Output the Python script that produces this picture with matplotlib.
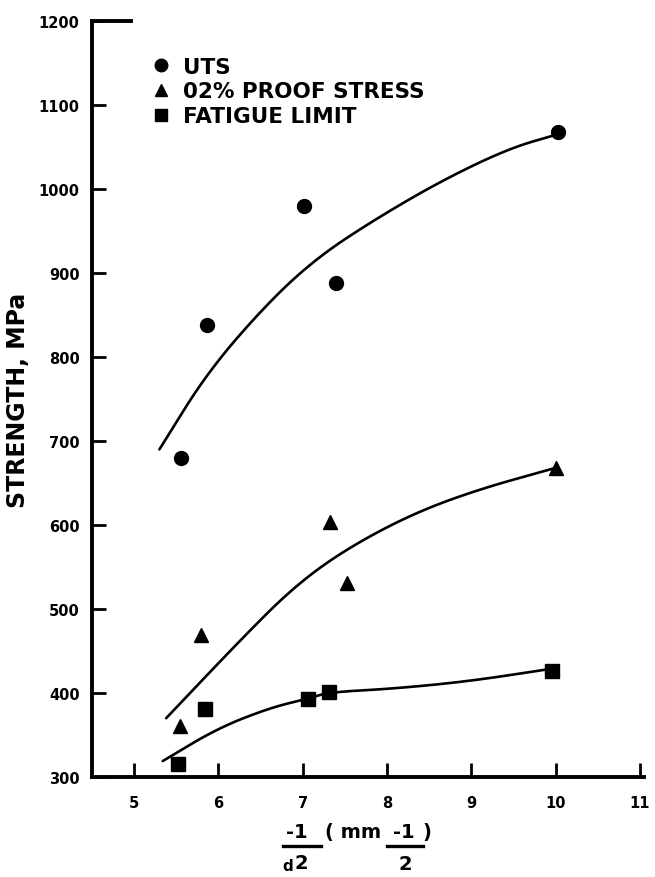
import matplotlib
matplotlib.use("Agg")
import matplotlib.pyplot as plt
from matplotlib.lines import Line2D
import numpy as np

# ---- data ----
uts_x = [5.56, 5.86, 7.01, 7.39, 10.03]
uts_y = [680, 838, 980, 888, 1068]

proof_x = [5.54, 5.79, 7.33, 7.53, 10.0]
proof_y = [361, 469, 604, 531, 668]

fat_x = [5.52, 5.84, 7.06, 7.31, 9.96]
fat_y = [315, 381, 393, 401, 426]

# hand-drawn trend curves
uts_curve_x = [5.30, 5.87, 6.59, 7.18, 7.86, 8.65, 9.44, 10.02]
uts_curve_y = [690, 782, 865, 919, 964, 1010, 1048, 1065]
proof_curve_x = [5.38, 6.27, 6.87, 7.46, 8.25, 9.04, 10.0]
proof_curve_y = [370, 464, 524, 568, 611, 641, 668]
fat_curve_x = [5.34, 5.99, 6.63, 7.06, 7.31, 8.06, 8.98, 9.96]
fat_curve_y = [319, 358, 383, 393, 401, 405, 414, 429]

x_ticks = [5, 6, 7, 8, 9, 10, 11]
y_ticks = [300, 400, 500, 600, 700, 800, 900, 1000, 1100, 1200]
legend_labels = ["UTS", "02% PROOF STRESS", "FATIGUE LIMIT"]
y_label = "STRENGTH, MPa"

W, H = 655, 878
fig = plt.figure(figsize=(W / 100, H / 100), dpi=100)
ax = fig.add_axes([92 / W, 1 - 778 / H, (644 - 92) / W, (778 - 22) / H])

FONT = "DejaVu Sans"


def chaikin(cx, cy, n=4):
    # corner-cutting smoothing of the hand-drawn trend line (endpoints kept)
    p = np.column_stack([cx, cy]).astype(float)
    for _ in range(n):
        q = 0.75 * p[:-1] + 0.25 * p[1:]
        r = 0.25 * p[:-1] + 0.75 * p[1:]
        mid = np.empty((2 * len(q), 2))
        mid[0::2] = q
        mid[1::2] = r
        p = np.vstack([p[:1], mid, p[-1:]])
    return p[:, 0], p[:, 1]


for cx, cy in [(uts_curve_x, uts_curve_y), (proof_curve_x, proof_curve_y),
               (fat_curve_x, fat_curve_y)]:
    sx, sy = chaikin(cx, cy)
    ax.plot(sx, sy, color="black", lw=1.9, solid_capstyle="round")

ax.plot(uts_x, uts_y, "o", color="black", ms=10, ls="none")
ax.plot(proof_x, proof_y, "^", color="black", ms=9.5, ls="none")
ax.plot(fat_x, fat_y, "s", color="black", ms=10, ls="none")

ax.set_xlim(4.5, 11.05)
ax.set_ylim(300, 1200)
ax.set_xticks(x_ticks)
ax.set_yticks(y_ticks)
ax.set_xticklabels([str(v) for v in x_ticks], fontfamily=FONT, fontweight="bold", fontsize=10.5)
ax.set_yticklabels([str(v) for v in y_ticks], fontfamily=FONT, fontweight="bold", fontsize=10.5)
ax.tick_params(axis="both", direction="in", length=10, width=2, color="black")
ax.tick_params(axis="x", pad=13)
ax.tick_params(axis="y", pad=9)

for s in ["left", "bottom"]:
    ax.spines[s].set_linewidth(2.8)
ax.spines["right"].set_visible(False)
ax.spines["top"].set_visible(False)
# short top corner line
ax.plot([0, 0.07], [1, 1], transform=ax.transAxes, color="black", lw=2.8,
        clip_on=False, solid_capstyle="projecting")

ax.set_ylabel(y_label, fontfamily=FONT, fontweight="bold", fontsize=17, labelpad=6)

handles = [
    Line2D([], [], marker="o", color="black", ls="none", ms=9),
    Line2D([], [], marker="^", color="black", ls="none", ms=9),
    Line2D([], [], marker="s", color="black", ls="none", ms=8),
]
leg = ax.legend(handles, legend_labels, loc="upper left", bbox_to_anchor=(0.09, 0.967),
                frameon=False, handlelength=0.8, handletextpad=0.6, labelspacing=0.22,
                prop={"family": FONT, "weight": "bold", "size": 15.5}, borderpad=0)

# ---- x-axis label: d^(-1/2) (mm^(-1/2)) drawn as stacked fractions ----
def fx(px):
    return px / W

def fy(py):
    return 1 - py / H

tk = dict(fontfamily=FONT, fontweight="bold", fontsize=14, color="black")
fig.text(fx(297), fy(833), "-1", ha="center", va="center", **tk)
fig.add_artist(Line2D([fx(283), fx(321)], [fy(847), fy(847)], color="black", lw=2.4))
fig.text(fx(288), fy(867), "d", ha="center", va="center", fontfamily=FONT,
         fontweight="bold", fontsize=11)
fig.text(fx(301), fy(864), "2", ha="center", va="center", **tk)
fig.text(fx(325), fy(833), "( mm", ha="left", va="center", **tk)
fig.text(fx(404), fy(833), "-1", ha="center", va="center", **tk)
fig.add_artist(Line2D([fx(387), fx(423)], [fy(847), fy(847)], color="black", lw=2.4))
fig.text(fx(405), fy(865), "2", ha="center", va="center", **tk)
fig.text(fx(427), fy(833), ")", ha="center", va="center", **tk)

fig.savefig("out.png", dpi=100)
